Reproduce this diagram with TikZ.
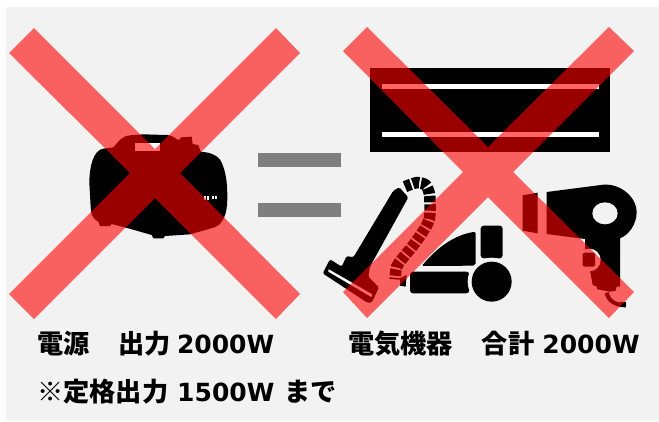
\documentclass[tikz,border=0pt]{standalone}
\usepackage{fontspec}
\newfontfamily\cjkfont{Noto Sans CJK JP}
\newfontfamily\latfont{DejaVu Sans}
\newcommand{\lat}[1]{{\latfont\fontsize{25}{30}\selectfont\bfseries #1}}
\definecolor{panel}{HTML}{F2F2F2}
\definecolor{barg}{HTML}{7F7F7F}
\tikzset{
  lbl/.style={anchor=base west,inner sep=0pt,font=\cjkfont\fontsize{26.2}{30}\selectfont\bfseries},
  crossmark/.style={fill=red,fill opacity=.6,draw=none},
  ink/.style={fill=black,draw=none},
  zoomed/.style={x=.33333pt,y=-.33333pt}
}
\begin{document}
\begin{tikzpicture}[x=1pt,y=-1pt]
\useasboundingbox (0,0) rectangle (659,421);
\fill[white] (0,0) rectangle (659,421);
\fill[panel] (6,7) rectangle (659,421);
% equals
\fill[barg] (258,153) rectangle (341,167);
\fill[barg] (258,203) rectangle (341,217);
% air conditioner
\fill[ink] (370,68) rectangle (610,152);
\fill[white] (382,84) rectangle (599,89);
\fill[white] (382,132) rectangle (599,137);
% power station
\begin{scope}[xshift=80pt,yshift=-120pt,zoomed]
\fill[ink] (100,82) .. controls (115,65) and (125,48) .. (150,46) -- (190,43) -- (262,45) .. controls (280,46) and (290,60) .. (297,60) -- (303,52) -- (335,50) -- (338,72) -- (355,75) -- (362,95) .. controls (400,98) and (420,110) .. (428,135) .. controls (440,165) and (442,200) .. (442,235) .. controls (442,280) and (430,315) .. (400,323) -- (330,343) -- (255,348) -- (250,355) -- (220,355) -- (215,345) -- (145,325) -- (95,312) -- (90,318) -- (60,318) -- (55,305) .. controls (35,295) and (33,280) .. (32,260) -- (28,190) .. controls (28,140) and (40,90) .. (70,86) -- cycle;
\fill[white] (165,70) rectangle (240,92);
\fill[white] (372,228) rectangle (387,240);
\fill[white] (396,227) rectangle (412,238);
\fill[ink] (378,228) rectangle (381,240);
\fill[ink] (403,227) rectangle (406,238);
\end{scope}
% vacuum
\begin{scope}[xshift=310pt,yshift=-170pt,zoomed]
\fill[ink,rounded corners=1.5pt] (38,310) -- (60,268) -- (95,290) -- (110,258) -- (130,262) -- (250,62) -- (268,52) -- (295,82) -- (180,290) -- (175,320) -- (207,352) -- (185,398) -- (172,398) -- cycle;
\fill[white] (55,298) -- (60,300) -- (187,373) -- (184,381) -- (55,305) -- cycle;
\draw[line width=11.5pt,dash pattern=on 6.4pt off 2pt] plot[smooth] coordinates {(285,50) (320,38) (347,45) (358,70) (360,97) (360,122) (358,147) (348,170) (334,192) (320,212) (305,232) (290,250) (275,268) (260,290) (255,328)};
\fill[ink,rounded corners=1.5pt] (335,288) .. controls (380,235) and (430,195) .. (497,185) -- (497,287) -- cycle;
\fill[ink,rounded corners=3pt] (512,167) rectangle (578,265);
\fill[ink,rounded corners=3pt] (300,305) rectangle (478,370);
\fill[panel] (545,335) circle[radius=72];
\fill[ink] (545,335) circle[radius=60];
\fill[ink] (270,325) -- (290,315) -- (287,350) -- (270,347) -- cycle;
\end{scope}
% dryer
\begin{scope}[xshift=500pt,yshift=-170pt,zoomed]
\fill[ink] (68,76) -- (113,68) -- (113,190) -- (68,182) -- cycle;
\fill[ink] (140,66) -- (310,44) .. controls (365,40) and (410,85) .. (410,125) .. controls (410,165) and (385,195) .. (360,205) -- (360,350) -- (350,350) -- (347,362) -- (330,365) -- (292,358) -- (290,350) -- (278,345) -- (270,300) -- (255,280) -- (255,207) -- (140,192) -- cycle;
\fill[panel] (315,130) ellipse[x radius=38,y radius=33];
\fill[panel] (268,270) circle[radius=34];
\fill[ink,rounded corners=2pt] (248,248) rectangle (285,290);
\draw[line width=4pt] (320,368) .. controls (325,395) and (350,406) .. (378,406);
\fill[ink] (360,395) rectangle (378,412);
\end{scope}
% crosses
\fill[crossmark] (34,28) -- (155,149) -- (276,28) -- (300,53) -- (180,173) -- (300,294) -- (276,319) -- (155,198) -- (34,319) -- (9,294) -- (130,173) -- (9,53) -- cycle;
\fill[crossmark] (367,27) -- (488,147) -- (609,27) -- (634,51) -- (513,172) -- (634,292) -- (609,318) -- (488,197) -- (367,318) -- (343,292) -- (463,172) -- (343,51) -- cycle;
% labels
\node[lbl] (source) at (37,353) {電源\hspace{29pt}出力\hspace{6pt}\lat{2000W}};
\node[lbl] (devices) at (348,353) {電気機器\hspace{29pt}合計\hspace{8pt}\lat{2000W}};
\node[lbl] (rated) at (37,401) {※定格出力\hspace{9pt}\lat{1500W}\hspace{10pt}まで};
\end{tikzpicture}
\end{document}
